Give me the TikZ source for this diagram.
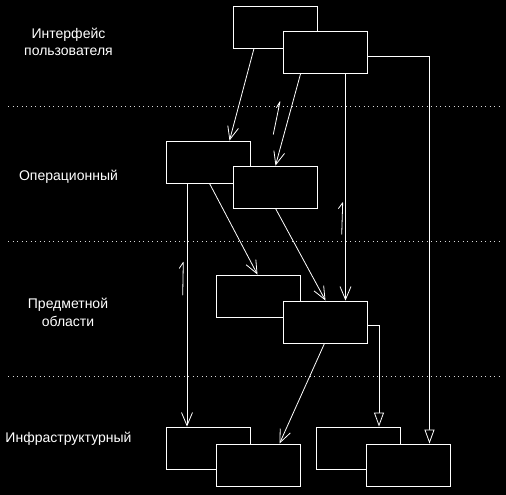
\documentclass[tikz,border=0pt]{standalone}
\usepackage{fontspec}
\setmainfont{Liberation Sans}
\usetikzlibrary{arrows.meta}
\begin{document}
\begin{tikzpicture}[x=1pt,y=-1pt,
  box/.style={draw=white, fill=black, line width=0.9pt, minimum width=84pt, minimum height=42pt, inner sep=0pt},
  conn/.style={draw=white, line width=0.8pt},
  dep/.style={conn, -{Straight Barb[length=13pt,width=11pt,line width=0.8pt]}},
  real/.style={conn, -{Triangle[open,length=14pt,width=10pt,fill=black,line width=0.8pt]}},
  sep/.style={draw=white!85!black, line width=1pt, dash pattern=on 1.2pt off 3.3pt},
  retmark/.style={draw=white, line width=0.8pt, line cap=round, line join=round},
  lbl/.style={text=white, font=\fontsize{14}{17}\selectfont, align=center, inner sep=0pt, anchor=base}]
\fill[black] (0,0) rectangle (506,495);
\useasboundingbox (0,0) rectangle (506,495);
% layer separators
\draw[sep] (8,106.7) -- (501,106.7);
\draw[sep] (8,241.3) -- (501,241.3);
\draw[sep] (8,376.7) -- (501,376.7);
% boxes
\node[box] (A1) at (275.5,27) {};
\node[box] (A2) at (325.5,52.5) {};
\node[box] (B1) at (208.5,162) {};
\node[box] (B2) at (275.5,187) {};
\node[box] (C1) at (258.5,296) {};
\node[box] (C2) at (325.5,322) {};
\node[box] (D1) at (208,448) {};
\node[box] (D2) at (258.5,465) {};
\node[box] (D3) at (358.5,448) {};
\node[box] (D4) at (408.5,465) {};
% connectors
\draw[dep] ([xshift=-21.5pt]A1.south) -- ([xshift=21pt]B1.north);
\draw[dep] ([xshift=-25pt]A2.south) -- (B2.north);
\draw[dep] ([xshift=20pt]A2.south) -- ([xshift=20pt]C2.north);
\draw[real] ([yshift=-3.5pt]A2.east) -| ([xshift=21pt]D4.north);
\draw[dep] ([xshift=-21.5pt]B1.south) -- ([xshift=-21.5pt]B1.south |- D1.north);
\draw[dep] ([xshift=1pt]B1.south) -- ([xshift=-1pt]C1.north);
\draw[dep] (B2.south) -- (C2.north);
\draw[real] ([yshift=-3.7pt]C2.east) -| ([xshift=20.5pt]D3.north);
\draw[dep] ([xshift=-1pt]C2.south) -- ([xshift=21pt]D2.north);
% return-direction marks
\draw[retmark] (273.3,134.3) -- (280,101.7) -- (276.5,107.5);
\draw[retmark] (341.7,234.3) -- (342.7,202.7) -- (338.5,208.5);
\draw[retmark] (182.7,295) -- (183.3,262.3) -- (179.3,268.3);
% layer labels
\node[lbl] (L1) at (68.5,56) {Интерфейс\\пользователя};
\node[lbl] (L2) at (68.5,180) {Операционный};
\node[lbl, font=\fontsize{14}{18.5}\selectfont] (L3) at (68,326.7) {Предметной\\области};
\node[lbl] (L4) at (68.5,442) {Инфраструктурный};
\end{tikzpicture}
\end{document}
